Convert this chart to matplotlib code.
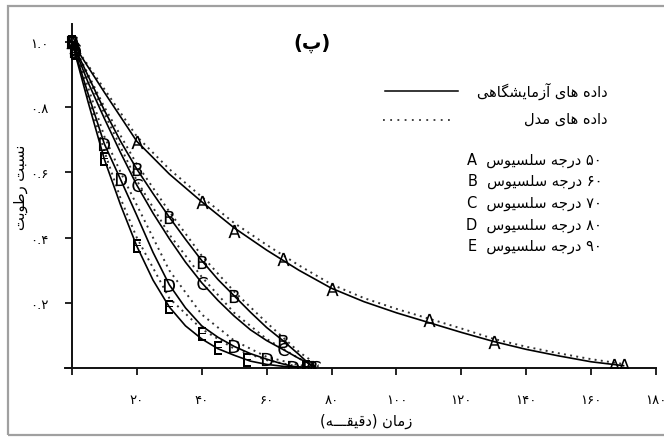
import re
import matplotlib
matplotlib.use("Agg")
import matplotlib.pyplot as plt
from matplotlib.patches import Rectangle

plt.rcParams['font.family'] = ['DejaVu Sans']

# ---- measured points (moisture ratio vs time, min) ----
t_A = [0, 1, 20, 40, 50, 65, 80, 110, 130, 167, 170]
mr_A = [1.0, 0.985, 0.693, 0.509, 0.42, 0.334, 0.242, 0.147, 0.08, 0.01, 0.01]

t_B = [0, 1, 20, 30, 40, 50, 65, 74]
mr_B = [1.0, 0.98, 0.61, 0.463, 0.326, 0.222, 0.085, 0.005]

t_C = [0, 1, 20, 40, 65, 75]
mr_C = [1.0, 0.975, 0.561, 0.262, 0.06, 0.005]

t_D = [0, 1, 10, 15, 30, 50, 60, 68, 73]
mr_D = [1.0, 0.97, 0.687, 0.58, 0.256, 0.067, 0.028, 0.004, 0.003]

t_E = [0, 1, 10, 20, 30, 40, 45, 54, 72]
mr_E = [1.0, 0.965, 0.64, 0.374, 0.188, 0.105, 0.062, 0.025, 0.003]

# ---- experimental curves (solid) ----
tc_A = [0, 10, 20, 30, 40, 50, 60, 70, 80, 90, 100, 110, 120, 130, 140, 150, 160, 170]
cc_A = [1.0, 0.845, 0.695, 0.595, 0.51, 0.43, 0.362, 0.3, 0.245, 0.204, 0.17, 0.14,
        0.11, 0.082, 0.058, 0.038, 0.02, 0.008]

tc_B = [0, 5, 10, 15, 20, 25, 30, 35, 40, 45, 50, 55, 60, 65, 70, 74]
cc_B = [1.0, 0.895, 0.79, 0.695, 0.61, 0.535, 0.463, 0.395, 0.33, 0.272, 0.222, 0.172,
        0.125, 0.085, 0.042, 0.005]

tc_C = [0, 5, 10, 15, 20, 25, 30, 35, 40, 45, 50, 55, 60, 65, 70, 75]
cc_C = [1.0, 0.875, 0.765, 0.66, 0.561, 0.475, 0.397, 0.325, 0.262, 0.208, 0.16, 0.118,
        0.085, 0.058, 0.03, 0.005]

tc_D = [0, 5, 10, 15, 20, 25, 30, 35, 40, 45, 50, 55, 60, 64, 68, 73]
cc_D = [1.0, 0.84, 0.687, 0.578, 0.468, 0.355, 0.256, 0.185, 0.13, 0.095, 0.067, 0.045,
        0.028, 0.016, 0.006, 0.002]

tc_E = [0, 5, 10, 15, 20, 25, 30, 35, 40, 45, 50, 55, 60, 66, 72]
cc_E = [1.0, 0.815, 0.64, 0.5, 0.374, 0.27, 0.188, 0.13, 0.09, 0.06, 0.04, 0.022,
        0.012, 0.005, 0.002]

# ---- model predictions (dotted) ----
tm_A = [0, 10, 20, 30, 40, 50, 60, 70, 80, 90, 100, 110, 120, 130, 140, 150, 160, 170]
mm_A = [1.0, 0.855, 0.71, 0.61, 0.525, 0.445, 0.378, 0.315, 0.257, 0.215, 0.182, 0.152,
        0.122, 0.09, 0.066, 0.046, 0.028, 0.013]

tm_B = [0, 10, 20, 30, 40, 50, 60, 70, 76]
mm_B = [1.0, 0.80, 0.625, 0.48, 0.345, 0.235, 0.14, 0.05, 0.008]

tm_C = [0, 10, 20, 30, 40, 50, 60, 70, 76]
mm_C = [1.0, 0.78, 0.575, 0.41, 0.28, 0.17, 0.09, 0.03, 0.004]

tm_D = [0, 5, 10, 15, 20, 30, 40, 50, 60, 70, 76]
mm_D = [1.0, 0.86, 0.71, 0.60, 0.50, 0.30, 0.165, 0.085, 0.035, 0.01, 0.0]

tm_E = [0, 5, 10, 15, 20, 30, 40, 50, 60, 70]
mm_E = [1.0, 0.83, 0.665, 0.52, 0.40, 0.215, 0.12, 0.06, 0.025, 0.005]

series_letters = ['A', 'B', 'C', 'D', 'E']
temps_fa = ['۵۰', '۶۰', '۷۰', '۸۰', '۹۰']

x_ticks = [0, 20, 40, 60, 80, 100, 120, 140, 160, 180]
x_ticklabels = ['', '۲۰', '۴۰', '۶۰', '۸۰', '۱۰۰', '۱۲۰', '۱۴۰', '۱۶۰', '۱۸۰']
y_ticks = [0, 0.2, 0.4, 0.6, 0.8, 1.0]
y_ticklabels = ['', '۰.۲', '۰.۴', '۰.۶', '۰.۸', '۱.۰']

# ---- minimal Persian shaping (presentation forms) + visual ordering ----
FORMS = {
    'ا': ('\uFE8D', '\uFE8E', None, None),
    'آ': ('\uFE81', '\uFE82', None, None),
    'ب': ('\uFE8F', '\uFE90', '\uFE91', '\uFE92'),
    'پ': ('\uFB56', '\uFB57', '\uFB58', '\uFB59'),
    'ت': ('\uFE95', '\uFE96', '\uFE97', '\uFE98'),
    'ج': ('\uFE9D', '\uFE9E', '\uFE9F', '\uFEA0'),
    'د': ('\uFEA9', '\uFEAA', None, None),
    'ر': ('\uFEAD', '\uFEAE', None, None),
    'ز': ('\uFEAF', '\uFEB0', None, None),
    'س': ('\uFEB1', '\uFEB2', '\uFEB3', '\uFEB4'),
    'ش': ('\uFEB5', '\uFEB6', '\uFEB7', '\uFEB8'),
    'ط': ('\uFEC1', '\uFEC2', '\uFEC3', '\uFEC4'),
    'ق': ('\uFED5', '\uFED6', '\uFED7', '\uFED8'),
    'گ': ('\uFB92', '\uFB93', '\uFB94', '\uFB95'),
    'ل': ('\uFEDD', '\uFEDE', '\uFEDF', '\uFEE0'),
    'م': ('\uFEE1', '\uFEE2', '\uFEE3', '\uFEE4'),
    'ن': ('\uFEE5', '\uFEE6', '\uFEE7', '\uFEE8'),
    'ه': ('\uFEE9', '\uFEEA', '\uFEEB', '\uFEEC'),
    'و': ('\uFEED', '\uFEEE', None, None),
    'ی': ('\uFBFC', '\uFBFD', '\uFBFE', '\uFBFF'),
    'ـ': ('\u0640', '\u0640', '\u0640', '\u0640'),
}


def shape(s):
    out = []
    for i, c in enumerate(s):
        if c not in FORMS:
            out.append(c)
            continue
        prev = s[i - 1] if i > 0 else None
        nxt = s[i + 1] if i + 1 < len(s) else None
        join_prev = prev in FORMS and FORMS[prev][2] is not None
        join_next = FORMS[c][2] is not None and nxt in FORMS
        iso, fin, ini, med = FORMS[c]
        if join_prev and join_next:
            out.append(med)
        elif join_prev:
            out.append(fin)
        elif join_next:
            out.append(ini)
        else:
            out.append(iso)
    return ''.join(out)


def rtl(s):
    v = shape(s)[::-1]
    v = re.sub(r'[0-9۰-۹.]+', lambda m: m.group(0)[::-1], v)
    return v.translate(str.maketrans('()', ')('))


W, H = 664, 439
fig = plt.figure(figsize=(W / 100, H / 100), dpi=100)

# axes geometry in pixels
x0_px, x180_px = 71.9, 656.0
y0_px, y1_px = 369.3, 42.7
sx = (x180_px - x0_px) / 180.0
sy = (y0_px - y1_px) / 1.0
xmin, xmax = -2, 180
ymax = (y0_px - 25) / sy
left = (x0_px + xmin * sx) / W
right = x180_px / W
bottom = (H - y0_px) / H
top = (H - 25) / H
ax = fig.add_axes([left, bottom, right - left, top - bottom])
ax.set_xlim(xmin, xmax)
ax.set_ylim(0, ymax)

for side in ('top', 'right'):
    ax.spines[side].set_visible(False)
ax.spines['left'].set_position(('data', 0))
for side in ('left', 'bottom'):
    ax.spines[side].set_linewidth(1.4)
    ax.spines[side].set_color('#111111')

ax.set_xticks(x_ticks)
ax.set_xticklabels(x_ticklabels)
ax.set_yticks(y_ticks)
ax.set_yticklabels(y_ticklabels)
ax.tick_params(axis='x', direction='out', length=5, width=1.2, pad=13, labelsize=9.5)
ax.tick_params(axis='y', direction='out', length=5, width=1.2, pad=12, labelsize=9.5)

pts_t = [t_A, t_B, t_C, t_D, t_E]
pts_y = [mr_A, mr_B, mr_C, mr_D, mr_E]
crv_t = [tc_A, tc_B, tc_C, tc_D, tc_E]
crv_y = [cc_A, cc_B, cc_C, cc_D, cc_E]
mod_t = [tm_A, tm_B, tm_C, tm_D, tm_E]
mod_y = [mm_A, mm_B, mm_C, mm_D, mm_E]

dotted = (0, (1, 2.2))
for t, y in zip(mod_t, mod_y):
    ax.plot(t, y, color='#333333', lw=1.4, linestyle=dotted, zorder=2)

for t, y in zip(crv_t, crv_y):
    ax.plot(t, y, color='black', lw=1.2, zorder=3, solid_joinstyle='round')

for t, y, letter in zip(pts_t, pts_y, series_letters):
    ax.plot(t, y, linestyle='none', marker=r'$\mathsf{%s}$' % letter,
            markersize=9.5, color='black', markeredgewidth=0, zorder=4)

# title
fig.text(312 / W, 1 - 43 / H, rtl('(پ)'), ha='center', va='center',
         fontsize=14, fontweight='bold')

# axis titles
fig.text(366 / W, 1 - 421 / H, rtl('زمان (دقیقـــه)'), ha='center', va='center',
         fontsize=10.5)
fig.text(21 / W, 1 - 187 / H, rtl('نسبت رطوبت'), ha='center', va='center',
         rotation=90, fontsize=10.5)

# line-style key
fig.add_artist(plt.Line2D([385 / W, 458 / W], [1 - 92 / H, 1 - 92 / H],
                          color='black', lw=1.1))
fig.add_artist(plt.Line2D([383 / W, 455 / W], [1 - 121 / H, 1 - 121 / H],
                          color='#333333', lw=1.3, linestyle=(0, (1, 3))))
fig.text(608 / W, 1 - 91 / H, rtl('داده های آزمایشگاهی'), ha='right', va='center',
         fontsize=10.5)
fig.text(608 / W, 1 - 119 / H, rtl('داده های مدل'), ha='right', va='center',
         fontsize=10.5)

# series key
for i, (letter, tf) in enumerate(zip(series_letters, temps_fa)):
    yy = 160 + i * 21.7
    fig.text(602 / W, 1 - yy / H, letter + '  ' + rtl(tf + ' درجه سلسیوس'),
             ha='right', va='center', fontsize=10.5)

# outer frame
fig.add_artist(Rectangle((8 / W, 3 / H), 2.0, 429 / H, transform=fig.transFigure,
                         fill=False, edgecolor='#a0a0a0', lw=1.6))

fig.savefig('out.png', dpi=100)
